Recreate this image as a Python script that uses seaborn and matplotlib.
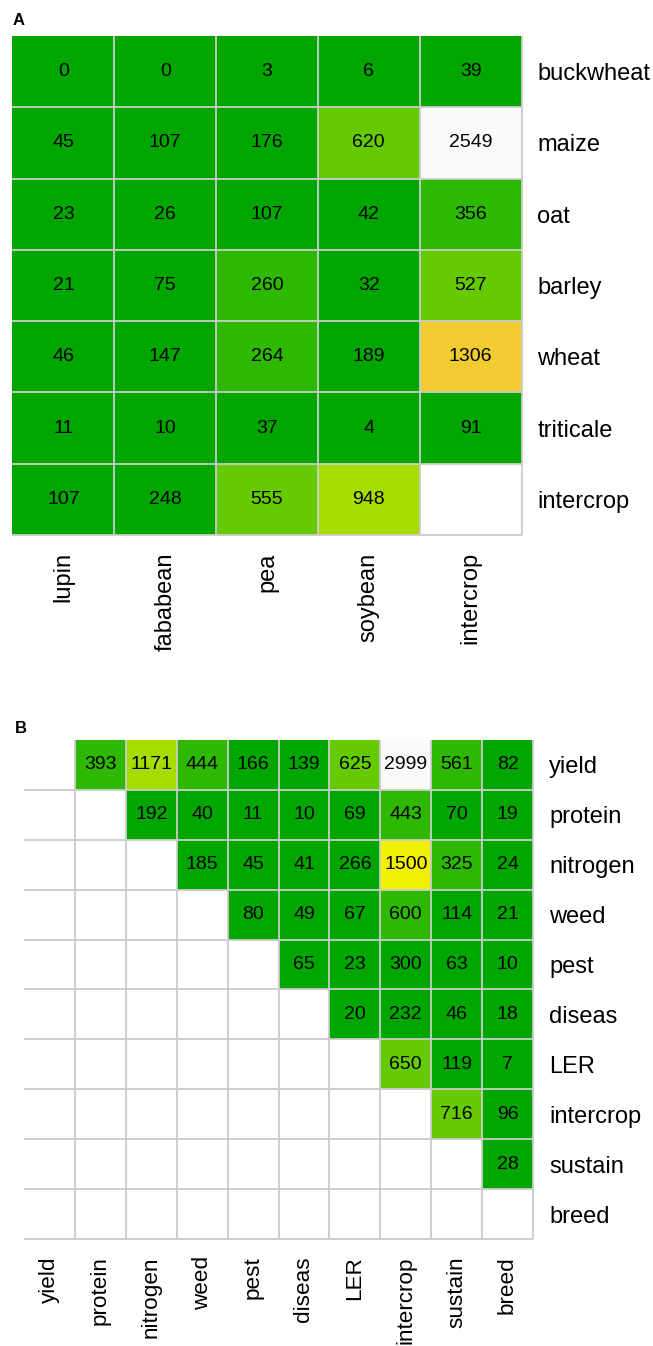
import colorsys
import numpy as np
import pandas as pd
import seaborn as sns
import matplotlib.pyplot as plt
from matplotlib.colors import ListedColormap, BoundaryNorm

# panel A: crop pairs
a_rows = ['buckwheat', 'maize', 'oat', 'barley', 'wheat', 'triticale', 'intercrop']
a_cols = ['lupin', 'fababean', 'pea', 'soybean', 'intercrop']
a_buckwheat = [0, 0, 3, 6, 39]
a_maize = [45, 107, 176, 620, 2549]
a_oat = [23, 26, 107, 42, 356]
a_barley = [21, 75, 260, 32, 527]
a_wheat = [46, 147, 264, 189, 1306]
a_triticale = [11, 10, 37, 4, 91]
a_intercrop = [107, 248, 555, 948, np.nan]

# panel B: topic pairs (upper triangle only)
b_labels = ['yield', 'protein', 'nitrogen', 'weed', 'pest', 'diseas', 'LER',
            'intercrop', 'sustain', 'breed']
b_yield = [393, 1171, 444, 166, 139, 625, 2999, 561, 82]
b_protein = [192, 40, 11, 10, 69, 443, 70, 19]
b_nitrogen = [185, 45, 41, 266, 1500, 325, 24]
b_weed = [80, 49, 67, 600, 114, 21]
b_pest = [65, 23, 300, 63, 10]
b_diseas = [20, 232, 46, 18]
b_ler = [650, 119, 7]
b_intercrop = [716, 96]
b_sustain = [28]
b_breed = []

df_a = pd.DataFrame([a_buckwheat, a_maize, a_oat, a_barley, a_wheat, a_triticale, a_intercrop],
                    index=a_rows, columns=a_cols)

b_upper = [b_yield, b_protein, b_nitrogen, b_weed, b_pest, b_diseas, b_ler,
           b_intercrop, b_sustain, b_breed]
n = len(b_labels)
df_b = pd.DataFrame([[np.nan] * (n - len(r)) + r for r in b_upper],
                    index=b_labels, columns=b_labels, dtype=float)


# terrain-like palette, 10 steps (green -> yellow -> white)
def terrain_colors(k_total):
    k = k_total // 2
    cols = []
    for t in np.linspace(0, 1, k):
        cols.append(colorsys.hsv_to_rgb(4/12 + t * (2/12 - 4/12), 1.0, 0.65 + t * 0.29))
    for t in np.linspace(0, 1, k_total - k + 1)[1:]:
        cols.append(colorsys.hsv_to_rgb(2/12 * (1 - t), 1 - t, 0.94 + t * 0.04))
    return cols


pal = ListedColormap(terrain_colors(10))
pal.set_bad('white')

plt.rcParams['font.family'] = ['Liberation Sans', 'DejaVu Sans']

fig = plt.figure(figsize=(6.53, 13.46), dpi=100)
ax_a = fig.add_axes([12.5 / 653, 1 - 535 / 1346, 509 / 653, 499 / 1346])
ax_b = fig.add_axes([24 / 653, 1 - 1239 / 1346, 509 / 653, 499 / 1346])

grid_col = '#cccccc'

for ax, df, xsize in [(ax_a, df_a, 17), (ax_b, df_b, 16.2)]:
    vmin = np.nanmin(df.values)
    vmax = np.nanmax(df.values)
    norm = BoundaryNorm(np.linspace(vmin, vmax, 11), 10)
    sns.heatmap(df, ax=ax, cmap=pal, norm=norm, cbar=False, annot=True, fmt='.0f',
                annot_kws={'color': 'black', 'fontsize': 14}, linewidths=0)
    nr, nc = df.shape
    ax.hlines(np.arange(1, nr + 1), 0, nc, colors=grid_col, linewidth=1.3, clip_on=False)
    ax.vlines(np.arange(1, nc + 1), 0, nr, colors=grid_col, linewidth=1.3, clip_on=False)
    ax.yaxis.tick_right()
    ax.tick_params(axis='y', length=0, pad=11.5, labelsize=17, rotation=0)
    ax.tick_params(axis='x', length=0, pad=12.5, labelsize=xsize, rotation=90)
    for lab in ax.get_yticklabels():
        lab.set_ha('left')
    ax.set_xlabel('')
    ax.set_ylabel('')
    for s in ax.spines.values():
        s.set_visible(False)

fig.text(13 / 653, 1 - 25 / 1346, 'A', fontsize=12, fontweight='bold', va='baseline')
fig.text(15 / 653, 1 - 733 / 1346, 'B', fontsize=12, fontweight='bold', va='baseline')

fig.savefig('out.png', dpi=100)
